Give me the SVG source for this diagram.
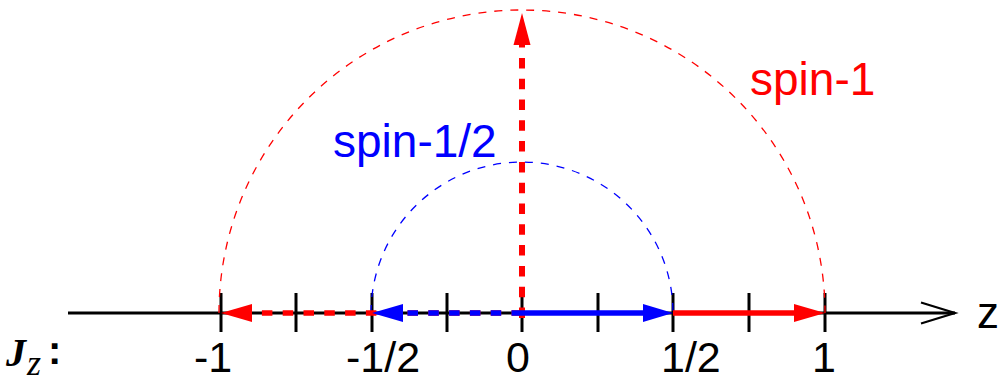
<svg xmlns="http://www.w3.org/2000/svg" width="1001" height="382" viewBox="0 0 1001 382">
<style>
.lbl{font-family:"Liberation Sans",Arial,sans-serif;font-size:43px;fill:#000}
.spin{font-family:"Liberation Sans",Arial,sans-serif;font-size:46px}
.tick{stroke:#000;stroke-width:3}
.circ{fill:none;stroke-width:1.3;stroke-dasharray:8 8}
.shaft{fill:none;stroke-width:5.5}
.dash{stroke-dasharray:10.5 10.3}
</style>
<rect width="1001" height="382" fill="#fff"/>
<g id="axis">
<line x1="68" y1="313" x2="955" y2="313" stroke="#000" stroke-width="3"/>
<polyline points="921,302.5 955,313 921,323.5" fill="none" stroke="#000" stroke-width="2.2"/>
<g class="tick">
<line x1="221" y1="293" x2="221" y2="332"/>
<line x1="296" y1="293" x2="296" y2="332"/>
<line x1="372" y1="293" x2="372" y2="332"/>
<line x1="447" y1="293" x2="447" y2="332"/>
<line x1="522" y1="293" x2="522" y2="332"/>
<line x1="598" y1="293" x2="598" y2="332"/>
<line x1="673" y1="293" x2="673" y2="332"/>
<line x1="749" y1="293" x2="749" y2="332"/>
<line x1="825" y1="293" x2="825" y2="332"/>
</g>
</g>
<g id="circles">
<path class="circ" stroke="#ff0000" d="M219,313 A303,303 0 0 1 825,313"/>
<path class="circ" stroke="#0000ff" d="M371,313 A151,151 0 0 1 673,313"/>
</g>
<g id="connectors">
<line class="shaft dash" stroke="#ff0000" x1="522" y1="318" x2="522" y2="42" style="stroke-width:6"/>
<polygon points="522,13 513.5,45 530.5,45" fill="#ff0000"/>
<line class="shaft dash" stroke="#ff0000" x1="522" y1="313" x2="250" y2="313"/>
<polygon points="221,313 252,304 252,322" fill="#ff0000"/>
<line class="shaft dash" stroke="#0000ff" x1="522" y1="313" x2="401" y2="313"/>
<polygon points="372,313 403,304 403,322" fill="#0000ff"/>
<line class="shaft" stroke="#0000ff" x1="522" y1="313" x2="645" y2="313"/>
<polygon points="673,313 643,304 643,322" fill="#0000ff"/>
<line class="shaft" stroke="#ff0000" x1="673" y1="313" x2="796" y2="313"/>
<polygon points="825,313 794,304 794,322" fill="#ff0000"/>
</g>
<g id="labels">
<text class="spin" x="750" y="95" fill="#ff0000">spin-1</text>
<text class="spin" x="333" y="157" fill="#0000ff">spin-1/2</text>
<text class="lbl" x="194" y="372">-1</text>
<text class="lbl" x="346" y="372">-1/2</text>
<text class="lbl" x="506" y="372">0</text>
<text class="lbl" x="661" y="372">1/2</text>
<text class="lbl" x="812" y="372">1</text>
<text x="977" y="328" style="font-family:'Liberation Sans',Arial,sans-serif;font-size:44px">z</text>
<text x="6" y="366" style="font-family:'Liberation Serif','Times New Roman',serif;font-size:40px;font-style:italic;font-weight:bold">J</text>
<text x="27" y="375" style="font-family:'Liberation Serif','Times New Roman',serif;font-size:36px;font-style:italic">z</text>
<text x="48" y="364" style="font-family:'Liberation Sans',Arial,sans-serif;font-size:40px;font-weight:bold">:</text>
</g>
</svg>
